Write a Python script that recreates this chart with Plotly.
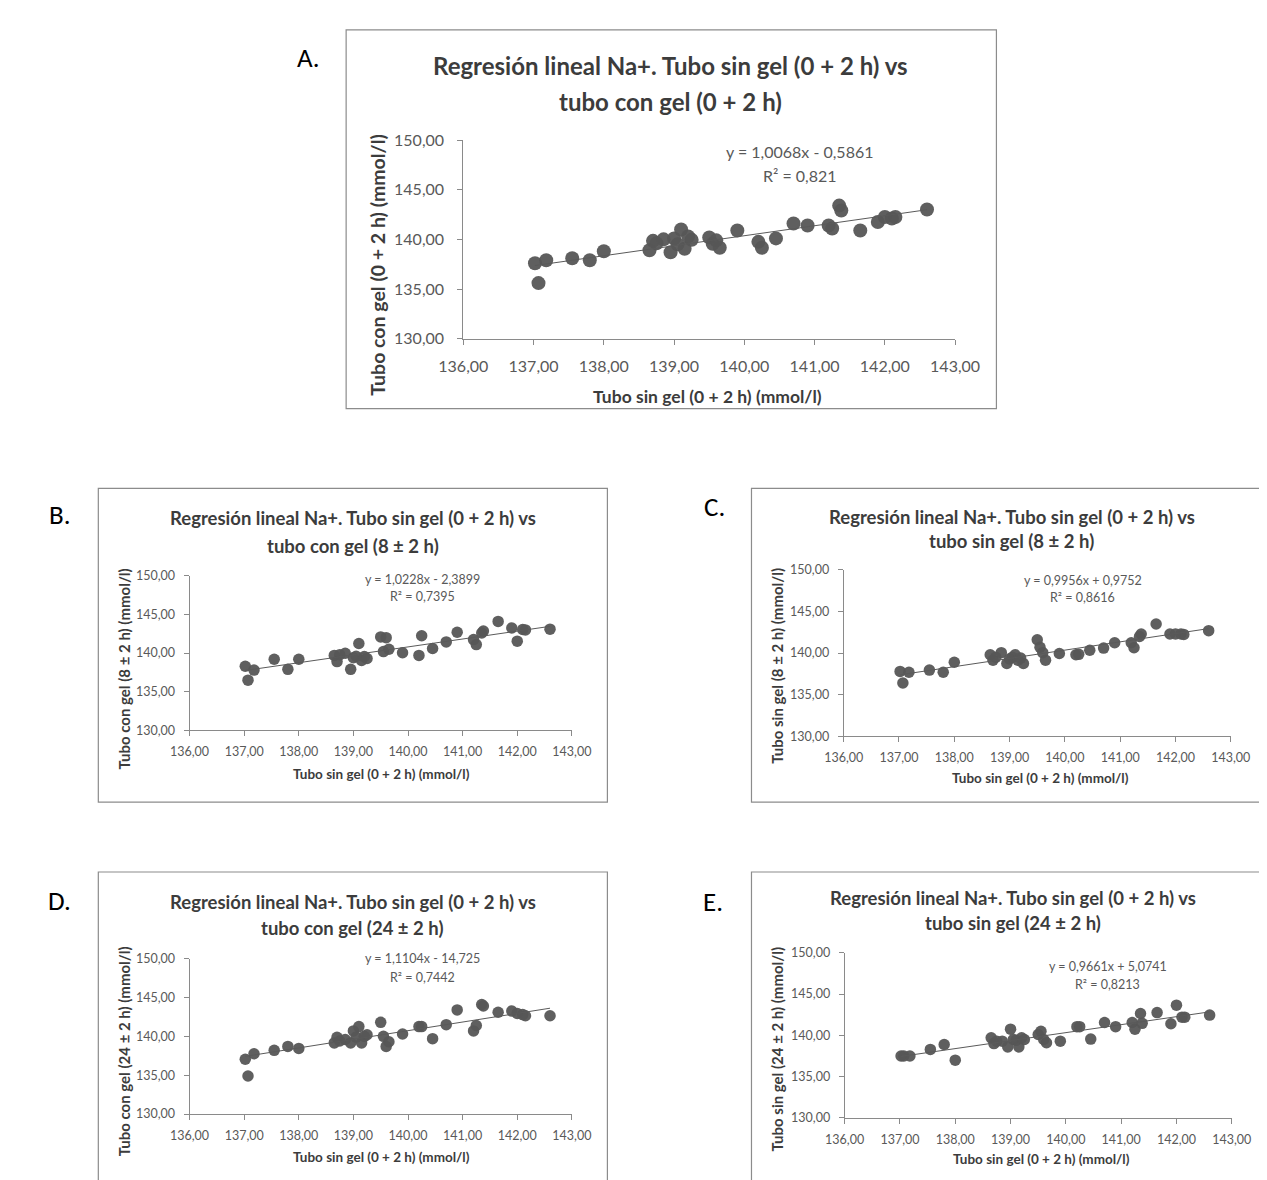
import plotly.graph_objects as go

W, H = 1267, 1180

# ---------------- data ----------------
x_sin_gel_0_2h = [137.02, 137.07, 137.18, 137.55, 137.80, 138.00, 138.65, 138.70, 138.75, 138.85,
                  138.95, 139.00, 139.05, 139.10, 139.15, 139.20, 139.25, 139.50, 139.55, 139.60,
                  139.65, 139.90, 140.20, 140.25, 140.45, 140.70, 140.90, 141.20, 141.25, 141.35,
                  141.38, 141.65, 141.90, 142.00, 142.10, 142.15, 142.60]

y_A_con_gel_0_2h = [137.6, 135.6, 137.9, 138.1, 137.9, 138.8, 138.9, 139.85, 139.6, 140.0,
                    138.7, 140.1, 139.5, 141.0, 139.05, 140.3, 139.95, 140.2, 139.55, 139.9,
                    139.15, 140.9, 139.75, 139.15, 140.1, 141.6, 141.4, 141.4, 141.1, 143.4,
                    142.9, 140.9, 141.75, 142.25, 142.1, 142.25, 143.0]

y_B_con_gel_8_2h = [138.3, 136.5, 137.8, 139.2, 137.9, 139.2, 139.7, 138.9, 139.8, 139.98,
                    137.9, 139.4, 139.6, 141.25, 139.05, 139.55, 139.3, 142.1, 140.2, 142.0,
                    140.5, 140.05, 139.7, 142.25, 140.6, 141.45, 142.7, 141.75, 141.1, 142.6,
                    142.85, 144.1, 143.25, 141.55, 143.05, 143.0, 143.1]

y_C_sin_gel_8_2h = [137.8, 136.4, 137.7, 137.96, 137.7, 138.9, 139.8, 139.15, 139.5, 140.05,
                    138.75, 139.3, 139.5, 139.8, 139.15, 139.4, 138.75, 141.6, 140.7, 140.05,
                    139.15, 139.95, 139.8, 139.85, 140.35, 140.6, 141.25, 141.25, 140.65, 142.0,
                    142.3, 143.5, 142.3, 142.3, 142.3, 142.25, 142.7]

y_D_con_gel_24_2h = [137.05, 134.9, 137.76, 138.2, 138.7, 138.45, 139.15, 139.87, 139.4, 139.6,
                     139.15, 140.7, 139.9, 141.25, 139.15, 140.0, 140.2, 141.8, 140.0, 138.7,
                     139.3, 140.3, 141.25, 141.25, 139.7, 141.5, 143.4, 140.7, 141.4, 144.1,
                     143.9, 143.1, 143.25, 142.95, 142.8, 142.65, 142.65]

y_E_sin_gel_24_2h = [137.5, 137.5, 137.5, 138.3, 138.9, 137.0, 139.7, 139.0, 139.3, 139.3,
                     138.6, 140.75, 139.5, 139.4, 138.6, 139.7, 139.5, 140.1, 140.5, 139.5,
                     139.1, 139.3, 141.05, 141.05, 139.55, 141.55, 141.05, 141.55, 140.75, 142.65,
                     141.45, 142.75, 141.4, 143.65, 142.2, 142.2, 142.45]

trend_slopes = [1.0068, 1.0228, 0.9956, 1.1104, 0.9661]
trend_intercepts = [-0.5861, -2.3899, 0.9752, -14.725, 5.0741]
equation_labels = ["y = 1,0068x - 0,5861", "y = 1,0228x - 2,3899", "y = 0,9956x + 0,9752",
                   "y = 1,1104x - 14,725", "y = 0,9661x + 5,0741"]
r2_labels = ["R² = 0,821", "R² = 0,7395", "R² = 0,8616", "R² = 0,7442", "R² = 0,8213"]

panel_letters = ["A.", "B.", "C.", "D.", "E."]
title_line1 = "Regresión lineal Na+. Tubo sin gel (0 + 2 h) vs"
title_line2 = ["tubo con gel (0 + 2 h)", "tubo con gel (8 ± 2 h)", "tubo sin gel (8 ± 2 h)",
               "tubo con gel (24 ± 2 h)", "tubo sin gel (24 ± 2 h)"]
x_axis_title = "Tubo sin gel (0 + 2 h) (mmol/l)"
y_axis_titles = ["Tubo con gel (0 + 2 h) (mmol/l)", "Tubo con gel (8 ± 2 h) (mmol/l)",
                 "Tubo sin gel (8 ± 2 h) (mmol/l)", "Tubo con gel (24 ± 2 h) (mmol/l)",
                 "Tubo sin gel (24 ± 2 h) (mmol/l)"]

x_tick_values = [136, 137, 138, 139, 140, 141, 142, 143]
x_tick_labels = ["136,00", "137,00", "138,00", "139,00", "140,00", "141,00", "142,00", "143,00"]
y_tick_values = [130, 135, 140, 145, 150]
y_tick_labels = ["130,00", "135,00", "140,00", "145,00", "150,00"]

y_series = [y_A_con_gel_0_2h, y_B_con_gel_8_2h, y_C_sin_gel_8_2h, y_D_con_gel_24_2h, y_E_sin_gel_24_2h]

# ---------------- layout geometry (pixels) ----------------
big = dict(fs_title=24, fs_tick=16, fs_xt=17.5, fs_yt=19.5, fs_eq=16, msize=14, ystand=10, xstand=8)
small = dict(fs_title=18.5, fs_tick=12.5, fs_xt=13.5, fs_yt=15, fs_eq=12.5, msize=11.5, ystand=6, xstand=5)
geom = [
    dict(frame=(326, 12, 1003, 397), plot=(448, 124, 960, 326), tx=664, ty=(48, 85),
         eq=(798, 136, 160), xt=(702, 385), yt=(359, 251), lab=(287, 40), **big),
    dict(frame=(68, 478, 598, 797), plot=(163, 567, 561, 724), tx=333, ty=(508, 537),
         eq=(405, 571, 588), xt=(363, 768), yt=(95, 662), lab=(28, 505), **small),
    dict(frame=(748, 478, 1285, 797), plot=(844, 561, 1247, 730), tx=1019, ty=(507, 532),
         eq=(1093, 572, 589), xt=(1049, 772), yt=(775, 658), lab=(710, 497), **small),
    dict(frame=(68, 868, 598, 1195), plot=(163, 956, 561, 1114), tx=333, ty=(898, 925),
         eq=(405, 956, 975), xt=(363, 1158), yt=(95, 1050), lab=(28, 897), **small),
    dict(frame=(748, 868, 1285, 1195), plot=(845, 950, 1248, 1118), tx=1020, ty=(894, 920),
         eq=(1119, 964, 982), xt=(1050, 1160), yt=(775, 1048), lab=(708, 898), **small),
]

def px(v):
    return v / W

def py(v):
    return 1 - v / H

FONT = "Lato, Calibri, Carlito, sans-serif"
MARKER = "#565656"
TEXT = "#595959"
TITLE = "#3c3c3c"
AXIS = "#8a8a8a"

fig = go.Figure()
annotations = []
shapes = []
layout_axes = {}


def ann(text, x, y, size, color, bold=False, angle=0, family=FONT):
    annotations.append(dict(text=("<b>%s</b>" % text) if bold else text, x=px(x), y=py(y),
                            xref="paper", yref="paper", xanchor="center", yanchor="middle",
                            showarrow=False, textangle=angle,
                            font=dict(family=family, size=size, color=color)))


for i, g in enumerate(geom):
    n = "" if i == 0 else str(i + 1)
    xa, ya = "x" + n, "y" + n
    ys = y_series[i]
    fig.add_trace(go.Scatter(x=x_sin_gel_0_2h, y=ys, mode="markers", xaxis=xa, yaxis=ya,
                             marker=dict(size=g["msize"], color=MARKER, opacity=0.95,
                                         line=dict(width=0)),
                             showlegend=False, hoverinfo="x+y"))
    xl = [min(x_sin_gel_0_2h), max(x_sin_gel_0_2h)]
    yl = [trend_slopes[i] * v + trend_intercepts[i] for v in xl]
    fig.add_trace(go.Scatter(x=xl, y=yl, mode="lines", xaxis=xa, yaxis=ya,
                             line=dict(color="#5a5a5a", width=1), showlegend=False,
                             hoverinfo="skip"))
    x0, y0, x1, y1 = g["plot"]
    layout_axes["xaxis" + n] = dict(
        domain=[px(x0), px(x1)], anchor=ya, range=[136, 143], tickvals=x_tick_values,
        ticktext=x_tick_labels, showline=True, linecolor=AXIS, linewidth=1, ticks="outside",
        ticklen=5, tickcolor=AXIS, showgrid=False, zeroline=False,
        ticklabelstandoff=g["xstand"],
        tickfont=dict(family=FONT, size=g["fs_tick"], color=TEXT))
    layout_axes["yaxis" + n] = dict(
        domain=[py(y1), py(y0)], anchor=xa, range=[130, 150], tickvals=y_tick_values,
        ticktext=y_tick_labels, showline=True, linecolor=AXIS, linewidth=1, ticks="outside",
        ticklen=5, tickcolor=AXIS, showgrid=False, zeroline=False,
        ticklabelstandoff=g["ystand"],
        tickfont=dict(family=FONT, size=g["fs_tick"], color=TEXT))

    fx0, fy0, fx1, fy1 = g["frame"]
    shapes.append(dict(type="rect", xref="paper", yref="paper", x0=px(fx0), x1=px(fx1),
                       y0=py(fy1), y1=py(fy0), line=dict(color="#8c8c8c", width=1.2),
                       fillcolor="rgba(0,0,0,0)", layer="below"))

    ann(title_line1, g["tx"], g["ty"][0], g["fs_title"], TITLE, bold=True)
    ann(title_line2[i], g["tx"], g["ty"][1], g["fs_title"], TITLE, bold=True)
    ann(equation_labels[i], g["eq"][0], g["eq"][1], g["fs_eq"], TEXT)
    ann(r2_labels[i], g["eq"][0], g["eq"][2], g["fs_eq"], TEXT)
    ann(x_axis_title, g["xt"][0], g["xt"][1], g["fs_xt"], TITLE, bold=True)
    ann(y_axis_titles[i], g["yt"][0], g["yt"][1], g["fs_yt"], TITLE, bold=True, angle=-90)
    ann(panel_letters[i], g["lab"][0], g["lab"][1], 27, "#000000",
        family="Carlito, Lato, sans-serif")

fig.update_layout(width=W, height=H, margin=dict(l=0, r=0, t=0, b=0),
                  paper_bgcolor="white", plot_bgcolor="white",
                  annotations=annotations, shapes=shapes, **layout_axes)

fig.write_html("out.html")
